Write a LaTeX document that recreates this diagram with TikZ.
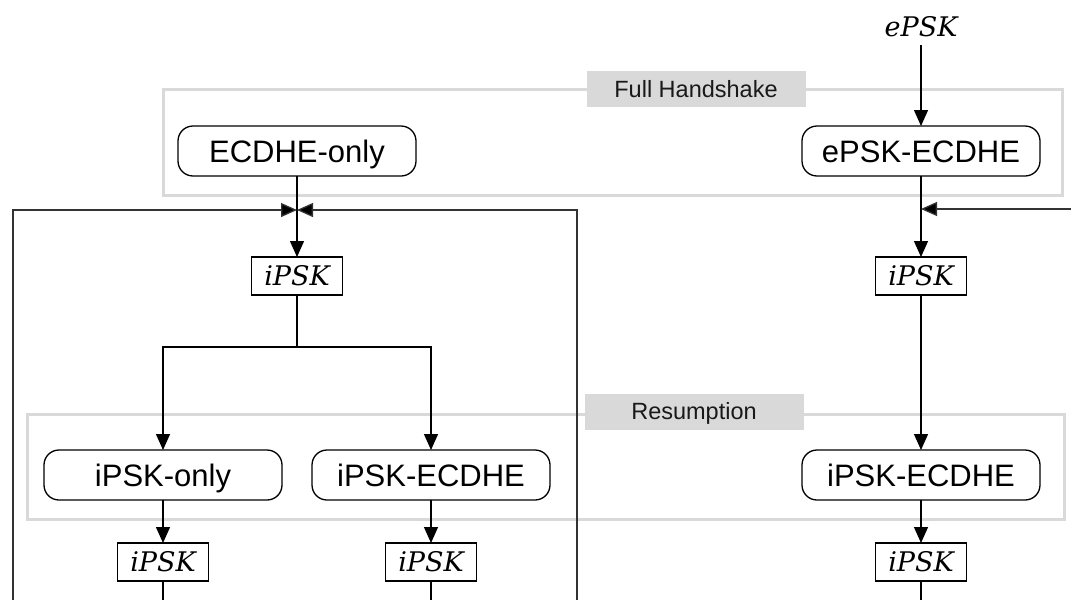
\documentclass[tikz,border=0pt]{standalone}
\usepackage{fontspec}
\setsansfont{Liberation Sans}
\renewcommand{\familydefault}{\sfdefault}
\newfontfamily\keyfont{DejaVu Serif}
\usetikzlibrary{arrows.meta}
\definecolor{framegray}{HTML}{D9D9D9}
\newcommand{\keyname}[1]{{\keyfont\itshape #1}}
\begin{document}
\begin{tikzpicture}[x=1pt,y=-1pt,
  every node/.style={inner sep=0pt, outer sep=0pt},
  proto/.style={draw, line width=1.3pt, rounded corners=15pt,
    minimum width=238pt, minimum height=50pt, font=\sffamily\fontsize{31}{36}\selectfont,
    text height=22.2pt, text depth=0pt},
  keytext/.style={font=\fontsize{27}{30}\selectfont, text height=19.7pt, text depth=0pt},
  keybox/.style={keytext, draw, line width=1.2pt, minimum width=91pt, minimum height=38pt},
  phase/.style={draw=framegray, line width=3pt},
  phaselabel/.style={fill=framegray, minimum width=219pt, minimum height=36pt,
    font=\sffamily\fontsize{23.5}{28}\selectfont, text=black!90,
    text height=16.8pt, text depth=0pt},
  tip/.style={-{Triangle[length=16pt,width=14pt]}},
  flow/.style={line width=1.3pt, tip},
  link/.style={line width=1.3pt},
  loopback/.style={line width=1.3pt, draw=black!80, -{Triangle[length=16pt,width=14pt,fill=black]}},
]
\useasboundingbox (0,0) rectangle (1071,600);

% phase frames with their captions
\node[phase, minimum width=899pt, minimum height=106pt] (full) at (612.5,142) {};
\node[phaselabel] (fulllabel) at (696,89) {Full Handshake};
\node[phase, minimum width=1037pt, minimum height=105pt] (resume) at (545.5,466.5) {};
\node[phaselabel] (resumelabel) at (694,411.5) {Resumption};

% handshake modes
\node[keytext, outer ysep=8pt] (epsk) at (921,27) {\keyname{ePSK}};
\node[proto] (ecdhe) at (297,151) {ECDHE-only};
\node[proto] (epskecdhe) at (921,151) {ePSK-ECDHE};

% resumption secrets
\node[keybox] (k0) at (297,276) {\keyname{iPSK}};
\node[keybox] (kr0) at (921,276) {\keyname{iPSK}};

\node[proto] (ionly) at (163,475) {iPSK-only};
\node[proto] (iecdhe) at (431,475) {iPSK-ECDHE};
\node[proto] (iecdher) at (921,475) {iPSK-ECDHE};

\node[keybox] (k1) at (163,562) {\keyname{iPSK}};
\node[keybox] (k2) at (431,562) {\keyname{iPSK}};
\node[keybox] (kr1) at (921,562) {\keyname{iPSK}};

% junction points and loose ends
\coordinate (join) at (297,210);
\coordinate (rjoin) at (921,209);
\coordinate (split) at (297,347);
\coordinate (loopl) at (13,600);
\coordinate (loopr) at (577,600);
\coordinate (feedr) at (1071,209);
\coordinate (out1) at (163,600);
\coordinate (out2) at (431,600);
\coordinate (outr) at (921,600);

% left column
\draw[flow] (ecdhe) -- (k0);
\draw[loopback] (loopl) |- (join);
\draw[loopback] (loopr) |- (join);
\draw[link] (k0) -- (split);
\draw[flow] (split) -| (ionly);
\draw[flow] (split) -| (iecdhe);
\draw[flow] (ionly) -- (k1);
\draw[flow] (iecdhe) -- (k2);
\draw[link] (k1) -- (out1);
\draw[link] (k2) -- (out2);

% right column
\draw[flow] (epsk) -- (epskecdhe);
\draw[flow] (epskecdhe) -- (kr0);
\draw[loopback] (feedr) -- (rjoin);
\draw[flow] (kr0) -- (iecdher);
\draw[flow] (iecdher) -- (kr1);
\draw[link] (kr1) -- (outr);
\end{tikzpicture}
\end{document}
